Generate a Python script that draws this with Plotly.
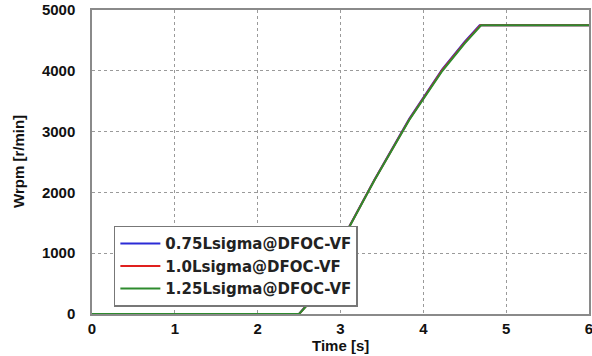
import plotly.graph_objects as go

t_blue = [0, 2.5, 2.6, 3.0, 3.41, 3.83, 4.23, 4.5, 4.68, 6]
w_blue = [0, 0, 160, 1160, 2210, 3210, 4030, 4480, 4750, 4750]
t_red = [0, 2.5, 2.6, 3.0, 3.41, 3.83, 4.23, 4.5, 4.69, 6]
w_red = [0, 0, 155, 1155, 2205, 3200, 4015, 4465, 4750, 4750]
t_green = [0, 2.5, 2.6, 3.0, 3.41, 3.83, 4.23, 4.5, 4.70, 6]
w_green = [0, 0, 150, 1150, 2200, 3190, 4000, 4450, 4750, 4750]

names = ["0.75Lsigma@DFOC-VF", "1.0Lsigma@DFOC-VF", "1.25Lsigma@DFOC-VF"]
colors = ["#2b2bd6", "#e0201e", "#2e8b2e"]
x_title = "Time [s]"
y_title = "Wrpm [r/min]"

FONT = "Liberation Sans, Arial, sans-serif"
LEG_FONT = "DejaVu Sans, sans-serif"

fig = go.Figure()
for t, w, n, c in zip([t_blue, t_red, t_green], [w_blue, w_red, w_green], names, colors):
    fig.add_trace(go.Scatter(x=t, y=w, mode="lines", name="<b>" + n + "</b>",
                             line=dict(color=c, width=2)))

axis_common = dict(
    showgrid=True, gridcolor="#9a9a9a", griddash="dot", gridwidth=1,
    zeroline=False, showline=True, linecolor="#8a8a8a", linewidth=1.5, mirror=True,
    ticks="", automargin=False, ticklabeloverflow="allow",
    tickfont=dict(family=FONT, size=15, color="#111"),
    tickprefix="<b>", ticksuffix="</b>",
)

fig.update_layout(
    width=592, height=356,
    margin=dict(l=92, r=3, t=10, b=42),
    paper_bgcolor="white", plot_bgcolor="white",
    showlegend=True,
    legend=dict(x=0.044, y=0.29, xanchor="left", yanchor="top",
                bordercolor="#777", borderwidth=1.5, bgcolor="white",
                font=dict(family=LEG_FONT, size=15, color="#222"),
                traceorder="normal", tracegroupgap=0, itemwidth=40),
    xaxis=dict(range=[0, 6], dtick=1, ticklabelstandoff=0, **axis_common),
    yaxis=dict(range=[0, 5000], dtick=1000, ticklabelstandoff=12, **axis_common),
    annotations=[
        dict(text="<b>" + x_title + "</b>", xref="paper", yref="paper",
             x=0.5, y=0, yshift=-31, xanchor="center", yanchor="middle",
             showarrow=False, font=dict(family=FONT, size=15, color="#111")),
        dict(text="<b>" + y_title + "</b>", xref="paper", yref="paper",
             x=0, y=0.5, xshift=-74, xanchor="center", yanchor="middle",
             textangle=-90,
             showarrow=False, font=dict(family=FONT, size=15, color="#111")),
    ],
)

fig.write_html("out.html", config={"displayModeBar": False},
               post_script="document.body.style.margin='0px';document.body.style.padding='0px';")
